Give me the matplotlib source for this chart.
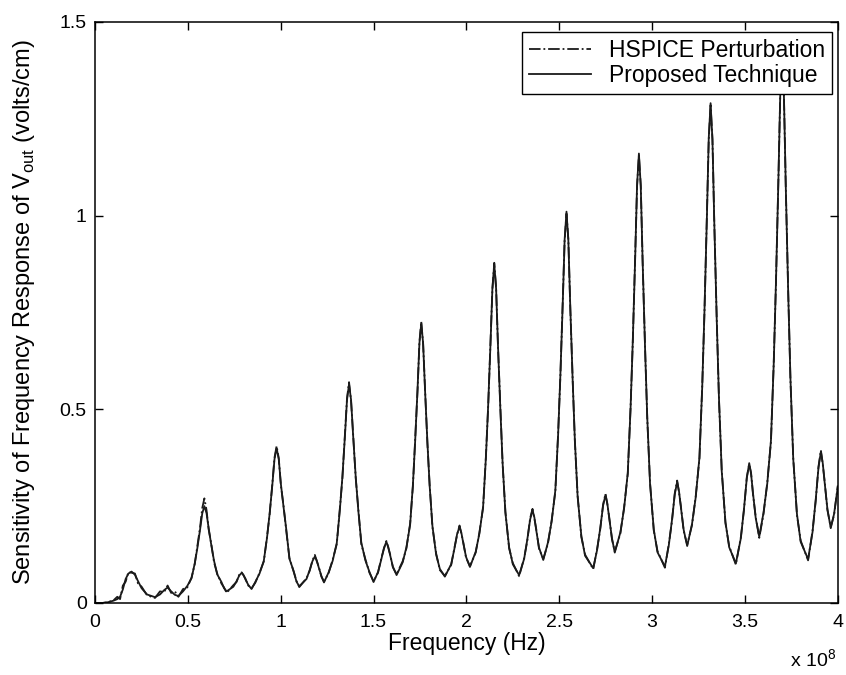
import matplotlib
matplotlib.use("Agg")
import matplotlib.pyplot as plt
from matplotlib.ticker import FormatStrFormatter

plt.rcParams['font.family'] = ['Liberation Sans', 'DejaVu Sans']

# frequency in units of 1e8 Hz
freq = [
    0, 0.04, 0.07, 0.10, 0.12, 0.135, 0.15, 0.165, 0.18, 0.197, 0.215, 0.232, 0.251, 0.28, 0.323,
    0.35, 0.372, 0.391, 0.41, 0.43, 0.449,
    # peak 0.59
    0.474, 0.497, 0.520, 0.537, 0.551, 0.566, 0.5775, 0.589, 0.6005, 0.612, 0.627, 0.641, 0.658,
    0.681, 0.695, 0.709,
    0.745, 0.762, 0.777, 0.790, 0.800, 0.810, 0.825, 0.843,
    # peak 0.98
    0.863, 0.886, 0.909, 0.926, 0.940, 0.955, 0.9665, 0.978, 0.9895, 1.001, 1.016, 1.030, 1.047,
    1.070, 1.085, 1.100,
    1.139, 1.156, 1.171, 1.184, 1.194, 1.204, 1.219, 1.233,
    # peak 1.37
    1.258, 1.280, 1.302, 1.318, 1.332, 1.346, 1.357, 1.368, 1.379, 1.390, 1.404, 1.418, 1.434,
    1.456, 1.478, 1.500,
    1.524, 1.541, 1.556, 1.569, 1.579, 1.589, 1.604, 1.624,
    # peak 1.76
    1.657, 1.677, 1.697, 1.712, 1.724, 1.737, 1.747, 1.757, 1.767, 1.777, 1.790, 1.802, 1.817,
    1.837, 1.857, 1.884,
    1.918, 1.935, 1.950, 1.963, 1.973, 1.983, 1.998, 2.019,
    # peak 2.15
    2.050, 2.070, 2.090, 2.105, 2.117, 2.130, 2.140, 2.150, 2.160, 2.170, 2.183, 2.195, 2.210,
    2.230, 2.250, 2.284,
    2.311, 2.328, 2.343, 2.356, 2.366, 2.376, 2.391, 2.414,
    # peak 2.54
    2.439, 2.459, 2.479, 2.494, 2.506, 2.519, 2.529, 2.539, 2.549, 2.559, 2.572, 2.584, 2.599,
    2.619, 2.639, 2.683,
    2.704, 2.721, 2.736, 2.749, 2.759, 2.769, 2.784, 2.799,
    # peak 2.93
    2.829, 2.849, 2.869, 2.884, 2.896, 2.909, 2.919, 2.929, 2.939, 2.949, 2.962, 2.974, 2.989,
    3.009, 3.029, 3.069,
    3.090, 3.107, 3.122, 3.135, 3.145, 3.155, 3.170, 3.189,
    # peak 3.32
    3.215, 3.235, 3.255, 3.270, 3.282, 3.295, 3.305, 3.315, 3.325, 3.335, 3.348, 3.360, 3.375,
    3.395, 3.415, 3.451,
    3.478, 3.495, 3.510, 3.523, 3.533, 3.543, 3.558, 3.577,
    # peak 3.70
    3.600, 3.620, 3.640, 3.655, 3.667, 3.680, 3.690, 3.700, 3.710, 3.720, 3.733, 3.745, 3.760,
    3.780, 3.800, 3.840,
    3.864, 3.881, 3.896, 3.909, 3.919, 3.929, 3.944, 3.962, 3.980, 4.000,
]

proposed = [
    0, 0.0, 0.002, 0.006, 0.010, 0.016, 0.035, 0.062, 0.076, 0.081, 0.073, 0.056, 0.038, 0.022, 0.015,
    0.022, 0.033, 0.040, 0.030, 0.021, 0.018,
    0.030, 0.044, 0.064, 0.102, 0.141, 0.190, 0.231, 0.250, 0.232, 0.193, 0.147, 0.109, 0.074,
    0.054, 0.038, 0.030,
    0.042, 0.056, 0.071, 0.078, 0.072, 0.061, 0.047, 0.036,
    0.054, 0.076, 0.109, 0.167, 0.229, 0.305, 0.371, 0.400, 0.371, 0.307, 0.245, 0.190, 0.114,
    0.082, 0.055, 0.043,
    0.062, 0.085, 0.108, 0.120, 0.110, 0.093, 0.070, 0.053,
    0.079, 0.109, 0.155, 0.237, 0.324, 0.432, 0.524, 0.565, 0.524, 0.432, 0.325, 0.238, 0.156,
    0.110, 0.080, 0.054,
    0.080, 0.111, 0.142, 0.158, 0.145, 0.124, 0.094, 0.072,
    0.105, 0.144, 0.202, 0.306, 0.417, 0.553, 0.670, 0.722, 0.670, 0.552, 0.415, 0.303, 0.199,
    0.125, 0.088, 0.068,
    0.100, 0.139, 0.178, 0.197, 0.181, 0.155, 0.119, 0.093,
    0.132, 0.179, 0.249, 0.375, 0.507, 0.672, 0.812, 0.875, 0.811, 0.666, 0.498, 0.361, 0.233,
    0.144, 0.100, 0.072,
    0.114, 0.164, 0.215, 0.240, 0.221, 0.188, 0.143, 0.111,
    0.156, 0.210, 0.291, 0.435, 0.587, 0.776, 0.938, 1.010, 0.936, 0.771, 0.578, 0.421, 0.274,
    0.173, 0.122, 0.090,
    0.137, 0.194, 0.251, 0.279, 0.257, 0.219, 0.167, 0.130,
    0.182, 0.243, 0.336, 0.501, 0.676, 0.892, 1.078, 1.160, 1.075, 0.883, 0.659, 0.478, 0.307,
    0.190, 0.131, 0.094,
    0.149, 0.214, 0.280, 0.313, 0.288, 0.247, 0.189, 0.147,
    0.204, 0.273, 0.376, 0.558, 0.753, 0.993, 1.199, 1.290, 1.195, 0.981, 0.732, 0.530, 0.340,
    0.209, 0.144, 0.102,
    0.167, 0.244, 0.322, 0.361, 0.333, 0.285, 0.219, 0.171,
    0.233, 0.307, 0.419, 0.617, 0.828, 1.088, 1.311, 1.410, 1.306, 1.073, 0.800, 0.580, 0.372,
    0.230, 0.158, 0.113,
    0.183, 0.266, 0.349, 0.391, 0.361, 0.312, 0.243, 0.193, 0.230, 0.300,
]

hspice = [
    0, 0.0, 0.002, 0.007, 0.016, 0.010, 0.045, 0.055, 0.080, 0.078, 0.076, 0.050, 0.042, 0.020, 0.013,
    0.030, 0.028, 0.045, 0.026, 0.030, 0.016,
    0.036, 0.040, 0.066, 0.100, 0.146, 0.196, 0.245, 0.270, 0.240, 0.190, 0.150, 0.105, 0.076,
    0.050, 0.040, 0.026,
    0.046, 0.054, 0.073, 0.079, 0.071, 0.063, 0.045, 0.038,
    0.052, 0.078, 0.107, 0.170, 0.226, 0.308, 0.375, 0.405, 0.374, 0.303, 0.248, 0.186, 0.116,
    0.080, 0.057, 0.041,
    0.064, 0.083, 0.110, 0.124, 0.108, 0.095, 0.068, 0.055,
    0.077, 0.112, 0.152, 0.240, 0.320, 0.436, 0.528, 0.570, 0.520, 0.436, 0.322, 0.242, 0.152,
    0.113, 0.078, 0.056,
    0.078, 0.114, 0.140, 0.160, 0.143, 0.126, 0.092, 0.074,
    0.108, 0.141, 0.205, 0.302, 0.420, 0.550, 0.674, 0.726, 0.667, 0.556, 0.412, 0.306, 0.196,
    0.128, 0.085, 0.070,
    0.098, 0.141, 0.176, 0.200, 0.179, 0.157, 0.117, 0.095,
    0.130, 0.182, 0.246, 0.378, 0.504, 0.675, 0.809, 0.878, 0.814, 0.663, 0.501, 0.358, 0.236,
    0.141, 0.103, 0.069,
    0.116, 0.161, 0.218, 0.243, 0.218, 0.191, 0.140, 0.114,
    0.153, 0.213, 0.288, 0.438, 0.584, 0.779, 0.935, 1.005, 0.939, 0.768, 0.581, 0.418, 0.277,
    0.170, 0.125, 0.087,
    0.140, 0.191, 0.254, 0.282, 0.254, 0.222, 0.164, 0.133,
    0.179, 0.246, 0.333, 0.504, 0.673, 0.895, 1.075, 1.155, 1.078, 0.880, 0.662, 0.475, 0.310,
    0.187, 0.134, 0.091,
    0.152, 0.211, 0.283, 0.316, 0.285, 0.250, 0.186, 0.150,
    0.201, 0.276, 0.373, 0.561, 0.750, 0.996, 1.196, 1.285, 1.198, 0.978, 0.735, 0.527, 0.343,
    0.206, 0.147, 0.099,
    0.170, 0.241, 0.325, 0.358, 0.336, 0.282, 0.222, 0.168,
    0.230, 0.310, 0.416, 0.620, 0.825, 1.091, 1.308, 1.405, 1.309, 1.070, 0.803, 0.577, 0.375,
    0.227, 0.161, 0.110,
    0.186, 0.263, 0.352, 0.394, 0.358, 0.315, 0.240, 0.196, 0.227, 0.303,
]

xticks = [0, 0.5, 1, 1.5, 2, 2.5, 3, 3.5, 4]
yticks = [0, 0.5, 1, 1.5]

fig = plt.figure(figsize=(8.46, 6.75), dpi=100)
ax = fig.add_axes([0.1123, 0.1067, 0.878, 0.861])

ax.plot(freq, hspice, color='#1a1a1a', linestyle='-.', linewidth=1.3, label='HSPICE Perturbation')
ax.plot(freq, proposed, color='#1a1a1a', linestyle='-', linewidth=1.3, label='Proposed Technique')

ax.set_xlim(0, 4)
ax.set_ylim(0, 1.5)
ax.set_xticks(xticks)
ax.set_yticks(yticks)
ax.xaxis.set_major_formatter(FormatStrFormatter('%g'))
ax.yaxis.set_major_formatter(FormatStrFormatter('%g'))
ax.tick_params(direction='in', top=True, right=True, labelsize=14, length=6, width=1)
ax.tick_params(axis='x', pad=8)
ax.tick_params(axis='y', pad=6)
for s in ax.spines.values():
    s.set_linewidth(1.1)

ax.set_xlabel('Frequency (Hz)', fontsize=16.5, labelpad=1)
ax.set_ylabel(r'Sensitivity of Frequency Response of V$_{\mathregular{out}}$ (volts/cm)',
              fontsize=17, labelpad=16)
fig.text(0.988, 0.022, r'x 10$^{\mathregular{8}}$', ha='right', va='center', fontsize=14)

leg = ax.legend(loc='upper right', bbox_to_anchor=(0.992, 0.983), fontsize=16.5,
                fancybox=False, framealpha=1, edgecolor='black', handlelength=2.7,
                borderaxespad=0, borderpad=0.3, labelspacing=0.12, handletextpad=0.8)
leg.get_frame().set_linewidth(1.0)

fig.savefig('out.png', dpi=100)
